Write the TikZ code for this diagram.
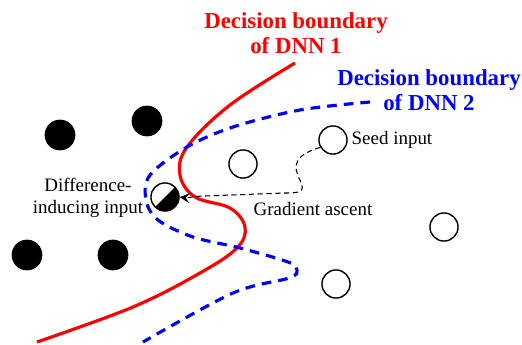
\documentclass[tikz,border=0pt]{standalone}
\usepackage{fontspec}
\setmainfont{Liberation Serif}
\usetikzlibrary{arrows.meta,positioning,calc}
\tikzset{
    classA/.style={circle, fill=black, minimum size=17.5pt, inner sep=0pt},
    classB/.style={circle, draw=black, thick, minimum size=16pt, inner sep=0pt},
    mixed/.style={circle, draw=black, thick, minimum size=16pt, inner sep=0pt,
        path picture={\fill[black] (path picture bounding box.south west) -- (path picture bounding box.north east) -- (path picture bounding box.south east) -- cycle;}},
    bound1/.style={red, line width=1.8pt},
    bound2/.style={blue, line width=1.8pt, dash pattern=on 5.5pt off 4pt},
    ascent/.style={-{Stealth[length=2mm, width=2mm, inset=0.8mm]}, dash pattern=on 3pt off 2pt, semithick, black},
    lbl/.style={font=\fontsize{10.8}{12.5}\selectfont, inner sep=0pt}
}

\begin{document}
\begin{tikzpicture}[x=0.02cm, y=-0.02cm]
    \useasboundingbox (0,0) rectangle (522,345);
    % inputs of the first class
    \node[classA] (a1) at (60,135) {};
    \node[classA] (a2) at (147,121) {};
    \node[classA] (a3) at (27,255) {};
    \node[classA] (a4) at (113,255) {};
    % inputs of the second class
    \node[classB] (b1) at (243,164) {};
    \node[classB] (seed) at (333,140) {};
    \node[classB] (b3) at (444,227) {};
    \node[classB] (b4) at (336,284) {};
    \node[mixed] (diff) at (165,197) {};

    % boundaries
    \draw[bound1] plot[smooth, tension=0.6] coordinates {(295,63) (230,105) (187,147) (180,175) (195,197) (230,208) (245,227) (237,248) (200,273) (133,307) (37,342)};
    \draw[bound2] plot[smooth, tension=0.55] coordinates {(370,102) (300,110) (233,127) (187,147) (150,175) (146,200) (158,220) (193,237) (240,248) (288,262) (297,270) (289,278) (233,293) (143,342)};

    % labels
    \node[lbl, align=center, font=\bfseries\fontsize{13}{14.5}\selectfont, text=red] (t1) at (296,33) {Decision boundary\\of DNN 1};
    \node[lbl, align=center, font=\bfseries\fontsize{13}{14.5}\selectfont, text=blue] (t2) at (429,90) {Decision boundary\\of DNN 2};
    \node[lbl, right=2pt of seed] (seedlbl) {Seed input};
    \node[lbl, align=center] (difflbl) at (88,198) {Difference-\\inducing input};
    \node[lbl] (gradlbl) at (313,209) {Gradient ascent};

    % gradient ascent path
    \draw[ascent] (seed.210) .. controls (295,155) and (292,165) .. (300,180)
        .. controls (306,192) and (300,193) .. (285,193)
        -- (205,196) .. controls (195,196) and (188,198) .. (diff.east);
\end{tikzpicture}
\end{document}
